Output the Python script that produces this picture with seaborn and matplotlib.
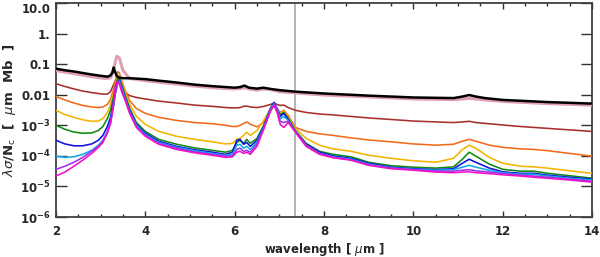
import numpy as np
import pandas as pd
import matplotlib
matplotlib.use("Agg")
import matplotlib.pyplot as plt
import seaborn as sns
from matplotlib.ticker import FixedLocator, FixedFormatter, MultipleLocator, NullLocator

# ---------------- data (log10 of lambda*sigma/Nc in um Mb) ----------------
wl_black = [2.0, 2.2, 2.4, 2.6, 2.8, 2.95, 3.05, 3.15, 3.22, 3.26, 3.29, 3.32, 3.36, 3.42,
            3.5, 3.65, 4.0, 4.3, 4.7, 5.1, 5.5, 5.8, 6.0, 6.12, 6.22, 6.32, 6.5, 6.64, 6.8,
            7.0, 7.36, 8.0, 9.0, 10.0, 10.9, 11.1, 11.25, 11.4, 11.6, 12.0, 13.0, 14.0]
black_log = [-1.15, -1.20, -1.24, -1.29, -1.34, -1.37, -1.39, -1.41, -1.37, -1.28, -1.11, -1.24,
             -1.39, -1.44, -1.46, -1.46, -1.49, -1.54, -1.60, -1.67, -1.72, -1.75, -1.77, -1.75,
             -1.70, -1.77, -1.80, -1.77, -1.81, -1.85, -1.90, -1.96, -2.03, -2.09, -2.11, -2.06,
             -2.01, -2.06, -2.11, -2.17, -2.24, -2.29]
pink_log = [-1.21, -1.26, -1.31, -1.36, -1.41, -1.44, -1.46, -1.47, -1.44, -1.34, -1.21, -0.98,
            -0.74, -0.80, -1.21, -1.47, -1.54, -1.59, -1.65, -1.72, -1.77, -1.80, -1.81, -1.80,
            -1.77, -1.81, -1.85, -1.81, -1.83, -1.90, -1.94, -2.01, -2.07, -2.14, -2.16, -2.14,
            -2.12, -2.14, -2.17, -2.22, -2.29, -2.34]

wl = [2.0, 2.2, 2.4, 2.6, 2.8, 2.95, 3.05, 3.15, 3.22, 3.28, 3.33, 3.38, 3.42, 3.47, 3.55,
      3.65, 3.8, 4.0, 4.3, 4.7, 5.1, 5.5, 5.8, 5.95, 6.05, 6.12, 6.2, 6.27, 6.35, 6.5, 6.65,
      6.8, 6.88, 6.95, 7.02, 7.1, 7.2, 7.36, 7.6, 7.9, 8.2, 8.6, 9.0, 9.5, 10.0, 10.5, 10.9,
      11.1, 11.25, 11.4, 11.7, 12.0, 12.4, 12.7, 13.0, 13.5, 14.0]

brown_log = [-1.64, -1.73, -1.81, -1.88, -1.93, -1.96, -1.98, -1.98, -1.90, -1.70, -1.54, -1.42,
             -1.50, -1.73, -1.93, -2.03, -2.09, -2.14, -2.21, -2.27, -2.34, -2.38, -2.42, -2.43,
             -2.43, -2.42, -2.38, -2.37, -2.40, -2.42, -2.38, -2.32, -2.27, -2.32, -2.35, -2.34,
             -2.42, -2.51, -2.58, -2.63, -2.66, -2.71, -2.76, -2.81, -2.86, -2.89, -2.91, -2.89,
             -2.87, -2.91, -2.95, -2.99, -3.04, -3.07, -3.10, -3.15, -3.20]
orange_log = [-2.06, -2.17, -2.27, -2.35, -2.40, -2.42, -2.40, -2.32, -2.16, -1.86, -1.54, -1.25,
              -1.28, -1.54, -1.86, -2.19, -2.45, -2.61, -2.74, -2.84, -2.91, -2.95, -3.00, -3.04,
              -3.04, -3.00, -2.94, -2.89, -2.97, -3.05, -2.91, -2.51, -2.32, -2.45, -2.58, -2.51,
              -2.68, -3.07, -3.20, -3.28, -3.33, -3.41, -3.48, -3.54, -3.61, -3.65, -3.62, -3.52,
              -3.46, -3.52, -3.65, -3.72, -3.77, -3.79, -3.83, -3.92, -4.01]
yellow_log = [-2.51, -2.65, -2.74, -2.82, -2.87, -2.86, -2.78, -2.58, -2.32, -1.99, -1.67, -1.38,
              -1.38, -1.60, -1.93, -2.32, -2.71, -2.97, -3.20, -3.36, -3.46, -3.54, -3.61, -3.59,
              -3.46, -3.43, -3.33, -3.23, -3.33, -3.17, -2.84, -2.45, -2.32, -2.48, -2.61, -2.55,
              -2.74, -3.10, -3.43, -3.65, -3.77, -3.85, -3.98, -4.08, -4.16, -4.21, -4.08, -3.79,
              -3.65, -3.75, -4.05, -4.24, -4.34, -4.36, -4.40, -4.49, -4.57]
green_log = [-3.00, -3.13, -3.22, -3.26, -3.25, -3.17, -3.04, -2.78, -2.51, -2.12, -1.73, -1.47,
             -1.44, -1.67, -2.03, -2.45, -2.91, -3.20, -3.46, -3.62, -3.74, -3.82, -3.88, -3.82,
             -3.56, -3.49, -3.59, -3.46, -3.59, -3.43, -3.00, -2.48, -2.32, -2.48, -2.65, -2.58,
             -2.78, -3.17, -3.59, -3.85, -3.95, -4.03, -4.21, -4.32, -4.37, -4.40, -4.36, -4.11,
             -3.88, -4.01, -4.27, -4.44, -4.50, -4.50, -4.57, -4.65, -4.73]
blue_log = [-3.49, -3.61, -3.67, -3.67, -3.61, -3.49, -3.33, -3.04, -2.74, -2.29, -1.86, -1.55,
            -1.52, -1.73, -2.09, -2.51, -2.97, -3.26, -3.52, -3.69, -3.80, -3.88, -3.95, -3.88,
            -3.49, -3.46, -3.62, -3.56, -3.69, -3.49, -3.04, -2.45, -2.25, -2.45, -2.71, -2.61,
            -2.81, -3.20, -3.62, -3.88, -4.00, -4.08, -4.24, -4.37, -4.42, -4.45, -4.42, -4.24,
            -4.11, -4.21, -4.40, -4.52, -4.57, -4.57, -4.63, -4.70, -4.76]
cyan_log = [-4.01, -4.05, -4.03, -3.95, -3.82, -3.65, -3.49, -3.20, -2.91, -2.42, -1.96, -1.62,
            -1.55, -1.77, -2.12, -2.55, -3.00, -3.30, -3.56, -3.72, -3.83, -3.92, -3.98, -3.95,
            -3.65, -3.62, -3.75, -3.69, -3.79, -3.56, -3.07, -2.48, -2.29, -2.45, -2.78, -2.71,
            -2.84, -3.20, -3.65, -3.92, -4.03, -4.11, -4.27, -4.39, -4.44, -4.47, -4.45, -4.37,
            -4.31, -4.37, -4.47, -4.55, -4.60, -4.60, -4.66, -4.73, -4.79]
violet_log = [-4.44, -4.34, -4.21, -4.05, -3.85, -3.69, -3.52, -3.23, -2.94, -2.45, -1.96, -1.62,
              -1.60, -1.83, -2.16, -2.58, -3.04, -3.33, -3.59, -3.75, -3.87, -3.95, -4.01, -4.00,
              -3.79, -3.75, -3.85, -3.82, -3.88, -3.62, -3.10, -2.51, -2.32, -2.48, -2.87, -2.91,
              -2.87, -3.20, -3.65, -3.92, -4.05, -4.13, -4.29, -4.40, -4.45, -4.50, -4.50, -4.47,
              -4.45, -4.49, -4.53, -4.58, -4.63, -4.66, -4.70, -4.76, -4.83]
magenta_log = [-4.66, -4.53, -4.34, -4.14, -3.92, -3.72, -3.56, -3.26, -2.94, -2.38, -1.72, -1.55,
               -1.65, -1.90, -2.19, -2.61, -3.07, -3.36, -3.62, -3.79, -3.90, -3.98, -4.05, -4.03,
               -3.88, -3.85, -3.92, -3.88, -3.95, -3.69, -3.13, -2.55, -2.35, -2.58, -2.97, -3.07,
               -2.91, -3.23, -3.69, -3.95, -4.06, -4.14, -4.31, -4.42, -4.47, -4.53, -4.55, -4.53,
               -4.52, -4.55, -4.58, -4.62, -4.66, -4.70, -4.73, -4.79, -4.86]

marker_wavelength = 7.36

y_tick_values = [1e-6, 1e-5, 1e-4, 1e-3, 1e-2, 1e-1, 1.0, 10.0]
y_tick_labels = [r"$\mathbf{10^{-6}}$", r"$\mathbf{10^{-5}}$", r"$\mathbf{10^{-4}}$",
                 r"$\mathbf{10^{-3}}$", "0.01", "0.1", "1.", "10.0"]

# ---------------- build table ----------------
colored = [
    ("brown", brown_log, "#a8302c", 1.15),
    ("orange", orange_log, "#f26a1b", 1.15),
    ("yellow", yellow_log, "#f5b400", 1.15),
    ("green", green_log, "#108a10", 1.15),
    ("blue", blue_log, "#1010e0", 1.15),
    ("cyan", cyan_log, "#10a8e8", 1.15),
    ("violet", violet_log, "#a030e8", 1.15),
    ("magenta", magenta_log, "#f010c8", 1.15),
]
frames = []
for name, vals, col, lw in colored:
    frames.append(pd.DataFrame({"wl": wl, "val": 10.0 ** np.array(vals), "series": name}))
frames.append(pd.DataFrame({"wl": wl_black, "val": 10.0 ** np.array(pink_log), "series": "pink"}))
frames.append(pd.DataFrame({"wl": wl_black, "val": 10.0 ** np.array(black_log), "series": "black"}))
df = pd.concat(frames, ignore_index=True)

# ---------------- plot ----------------
sns.set_theme(style="ticks")
plt.rcParams["font.family"] = ["DejaVu Sans"]
plt.rcParams["mathtext.fontset"] = "dejavusans"

fig = plt.figure(figsize=(6.0, 2.57), dpi=100)
ax = fig.add_axes([0.0933, 0.1556, 0.8934, 0.8327])

ax.axvline(marker_wavelength, color="#a8a8a8", lw=1.2, zorder=1)

for name, vals, col, lw in colored:
    sns.lineplot(data=df[df.series == name], x="wl", y="val", color=col, lw=lw,
                 sort=False, estimator=None, ax=ax, zorder=3)
sns.lineplot(data=df[df.series == "pink"], x="wl", y="val", color="#e0a0b0", lw=2.2,
             sort=False, estimator=None, ax=ax, zorder=4)
sns.lineplot(data=df[df.series == "black"], x="wl", y="val", color="black", lw=1.8,
             sort=False, estimator=None, ax=ax, zorder=5)

ax.set_yscale("log")
ax.set_xlim(2, 14)
ax.set_ylim(1e-6, 10)
ax.yaxis.set_major_locator(FixedLocator(y_tick_values))
ax.yaxis.set_major_formatter(FixedFormatter(y_tick_labels))
ax.yaxis.set_minor_locator(NullLocator())
ax.xaxis.set_major_locator(MultipleLocator(2))
ax.xaxis.set_minor_locator(MultipleLocator(0.5))

ax.tick_params(axis="both", which="both", direction="in", top=True, right=True,
               color="#303030", width=1.0, labelsize=8.5)
ax.tick_params(axis="y", which="major", length=8, pad=4)
ax.tick_params(axis="x", which="major", length=4.5, pad=6)
ax.tick_params(axis="x", which="minor", length=2.5)
for lab in ax.get_xticklabels() + ax.get_yticklabels():
    lab.set_fontweight("bold")
fig.canvas.draw()
ax.get_yticklabels()[-1].set_verticalalignment("top")

for sp in ax.spines.values():
    sp.set_color("#404040")
    sp.set_linewidth(1.3)

ax.set_xlabel(r"wavelength [ $\mu$m ]", fontsize=8.5, fontweight="bold", labelpad=2)
ax.set_ylabel(r"$\lambda\sigma$/N$_\mathrm{c}$  [  $\mu$m  Mb  ]", fontsize=9.5,
              fontweight="bold", labelpad=1)

fig.savefig("out.png", dpi=100)
